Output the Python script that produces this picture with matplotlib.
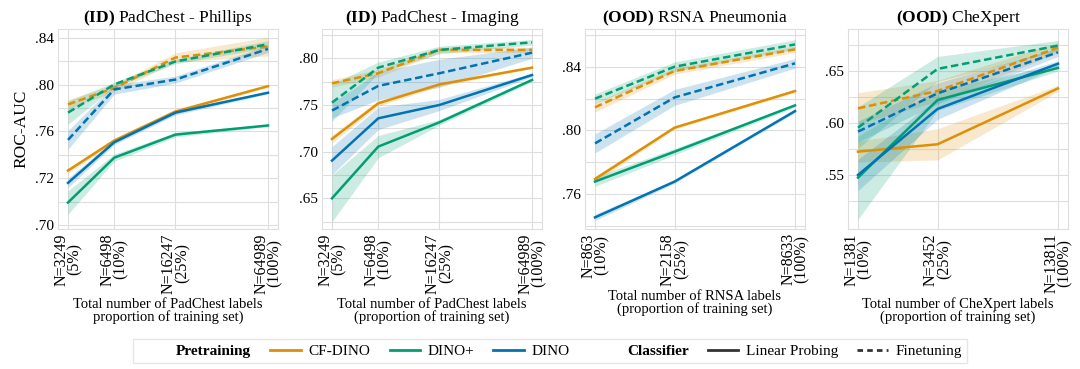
import numpy as np
import matplotlib.pyplot as plt
from matplotlib.lines import Line2D
from matplotlib.ticker import NullLocator, FixedLocator

plt.rcParams['font.family'] = ['Liberation Serif', 'DejaVu Serif']
plt.rcParams['mathtext.fontset'] = 'custom'
plt.rcParams['mathtext.rm'] = 'Liberation Serif'
plt.rcParams['mathtext.bf'] = 'Liberation Serif:bold'

models = ['CF-DINO', 'DINO+', 'DINO']
colors = {'CF-DINO': '#de8f05', 'DINO+': '#029e73', 'DINO': '#0173b2'}

# --- PadChest Phillips
phillips_n = [3249, 6498, 16247, 64989]
phillips_pct = ['5%', '10%', '25%', '100%']
phillips_lp_mean = {'CF-DINO': [.7265, .7521, .7769, .7986],
                    'DINO+': [.6992, .7375, .7572, .7650],
                    'DINO': [.7160, .7507, .7760, .7930]}
phillips_lp_sd = {'CF-DINO': [.002, .002, .002, .001],
                  'DINO+': [.010, .003, .002, .001],
                  'DINO': [.004, .002, .002, .001]}
phillips_ft_mean = {'CF-DINO': [.7830, .7970, .8230, .8325],
                    'DINO+': [.7760, .8000, .8197, .8344],
                    'DINO': [.7527, .7958, .8042, .8304]}
phillips_ft_sd = {'CF-DINO': [.004, .003, .004, .008],
                  'DINO+': [.010, .002, .002, .003],
                  'DINO': [.008, .004, .003, .003]}

# --- PadChest Imaging
imaging_n = [3249, 6498, 16247, 64989]
imaging_pct = ['5%', '10%', '25%', '100%']
imaging_lp_mean = {'CF-DINO': [.7136, .7518, .7720, .7900],
                   'DINO+': [.6500, .7054, .7314, .7768],
                   'DINO': [.6904, .7357, .7500, .7821]}
imaging_lp_sd = {'CF-DINO': [.004, .003, .002, .001],
                 'DINO+': [.025, .012, .003, .002],
                 'DINO': [.015, .012, .006, .002]}
imaging_ft_mean = {'CF-DINO': [.7732, .7840, .8090, .8090],
                   'DINO+': [.7525, .7900, .8090, .8171],
                   'DINO': [.7440, .7704, .7840, .8060]}
imaging_ft_sd = {'CF-DINO': [.004, .004, .003, .003],
                 'DINO+': [.020, .006, .004, .003],
                 'DINO': [.008, .015, .015, .006]}

# --- RSNA Pneumonia
rsna_n = [863, 2158, 8633]
rsna_pct = ['10%', '25%', '100%']
rsna_lp_mean = {'CF-DINO': [.7694, .8017, .8247],
                'DINO+': [.7678, .7866, .8157],
                'DINO': [.7453, .7678, .8121]}
rsna_lp_sd = {'CF-DINO': [.002, .001, .001],
              'DINO+': [.003, .002, .001],
              'DINO': [.002, .001, .001]}
rsna_ft_mean = {'CF-DINO': [.8145, .8373, .8509],
                'DINO+': [.8199, .8400, .8540],
                'DINO': [.7918, .8207, .8421]}
rsna_ft_sd = {'CF-DINO': [.003, .002, .002],
              'DINO+': [.003, .003, .003],
              'DINO': [.006, .005, .003]}

# --- CheXpert
chex_n = [1381, 3452, 13811]
chex_pct = ['10%', '25%', '100%']
chex_lp_mean = {'CF-DINO': [.5724, .5795, .6333],
                'DINO+': [.5474, .6221, .6530],
                'DINO': [.5500, .6135, .6570]}
chex_lp_sd = {'CF-DINO': [.010, .015, .003],
              'DINO+': [.040, .010, .003],
              'DINO': [.015, .010, .003]}
chex_ft_mean = {'CF-DINO': [.6141, .6308, .6725],
                'DINO+': [.5955, .6520, .6744],
                'DINO': [.5917, .6285, .6680]}
chex_ft_sd = {'CF-DINO': [.015, .010, .005],
              'DINO+': [.020, .012, .005],
              'DINO': [.010, .010, .004]}

panels = [
    dict(title=r'$\mathbf{(ID)}$ PadChest - Phillips', n=phillips_n, pct=phillips_pct,
         lp=phillips_lp_mean, lps=phillips_lp_sd, ft=phillips_ft_mean, fts=phillips_ft_sd,
         xlabel='Total number of PadChest labels\nproportion of training set)',
         ylim=(.6766, .8474), yt=[.68, .72, .76, .80, .84], ytl=['.70', '.72', '.76', '.80', '.84'],
         ymin=[.70, .74, .78, .82]),
    dict(title=r'$\mathbf{(ID)}$ PadChest - Imaging', n=imaging_n, pct=imaging_pct,
         lp=imaging_lp_mean, lps=imaging_lp_sd, ft=imaging_ft_mean, fts=imaging_ft_sd,
         xlabel='Total number of PadChest labels\n(proportion of training set)',
         ylim=(.6171, .8314), yt=[.65, .70, .75, .80], ytl=['.65', '.70', '.75', '.80'],
         ymin=[.625, .675, .725, .775, .825]),
    dict(title=r'$\mathbf{(OOD)}$ RSNA Pneumonia', n=rsna_n, pct=rsna_pct,
         lp=rsna_lp_mean, lps=rsna_lp_sd, ft=rsna_ft_mean, fts=rsna_ft_sd,
         xlabel='Total number of RNSA labels\n(proportion of training set)',
         ylim=(.738, .8637), yt=[.76, .80, .84], ytl=['.76', '.80', '.84'],
         ymin=[.74, .78, .82, .86]),
    dict(title=r'$\mathbf{(OOD)}$ CheXpert', n=chex_n, pct=chex_pct,
         lp=chex_lp_mean, lps=chex_lp_sd, ft=chex_ft_mean, fts=chex_ft_sd,
         xlabel='Total number of CheXpert labels\n(proportion of training set)',
         ylim=(.498, .6904), yt=[.55, .60, .65], ytl=['.55', '.60', '.65'],
         ymin=[.525, .575, .625, .675]),
]

grid_c = '#dedede'
fig = plt.figure(figsize=(10.8, 3.69), dpi=100)
lefts = [58, 322, 585, 848]

for i, p in enumerate(panels):
    ax = fig.add_axes([lefts[i] / 1080, 1 - 229 / 369, 220 / 1080, 200 / 369])
    x = np.array(p['n'])
    for key, ls in [('ft', (0, (3, 1.5))), ('lp', '-')]:
        for m in models:
            mean = np.array(p[key][m])
            sd = np.array(p[key + 's'][m])
            ax.fill_between(x, mean - sd, mean + sd, color=colors[m], alpha=0.2, lw=0)
            ax.plot(x, mean, color=colors[m], lw=1.8, ls=ls)
    ax.set_xscale('log')
    ax.set_xticks(x)
    ax.set_xticklabels(['N=%d\n(%s)' % (v, s) for v, s in zip(p['n'], p['pct'])],
                       rotation=90, fontsize=11.5, linespacing=0.8)
    ax.xaxis.set_minor_locator(NullLocator())
    ax.set_ylim(*p['ylim'])
    ax.set_yticks(p['yt'])
    ax.set_yticklabels(p['ytl'], fontsize=11)
    ax.yaxis.set_minor_locator(FixedLocator(p['ymin']))
    ax.grid(which='both', axis='y', color=grid_c, lw=0.8)
    ax.grid(which='major', axis='x', color=grid_c, lw=0.8)
    ax.set_axisbelow(True)
    for sp in ax.spines.values():
        sp.set_color(grid_c)
    ax.tick_params(which='both', length=0, pad=3)
    ax.set_title(p['title'], fontsize=12.5, pad=5)
    ax.set_xlabel(p['xlabel'], fontsize=10.5, linespacing=0.95, labelpad=3)
    if i == 0:
        ax.set_ylabel('ROC-AUC', fontsize=12.5, labelpad=4)

handles = [Line2D([], [], color='none')]
labels = ['Pretraining']
for m in models:
    handles.append(Line2D([], [], color=colors[m], lw=2))
    labels.append(m)
handles.append(Line2D([], [], color='none'))
labels.append('Classifier')
handles.append(Line2D([], [], color='#333333', lw=2))
labels.append('Linear Probing')
handles.append(Line2D([], [], color='#333333', lw=2, ls=(0, (2, 1.5))))
labels.append('Finetuning')

leg = fig.legend(handles, labels, loc='center', bbox_to_anchor=(550 / 1080, 1 - 351 / 369),
                 ncol=8, fontsize=11, frameon=True, edgecolor='#e0e0e0', fancybox=False,
                 handlelength=2.0, handletextpad=0.5, columnspacing=1.25, borderpad=0.35)
for t in leg.get_texts():
    if t.get_text() in ('Pretraining', 'Classifier'):
        t.set_fontweight('bold')

fig.savefig('out.png', dpi=100)
